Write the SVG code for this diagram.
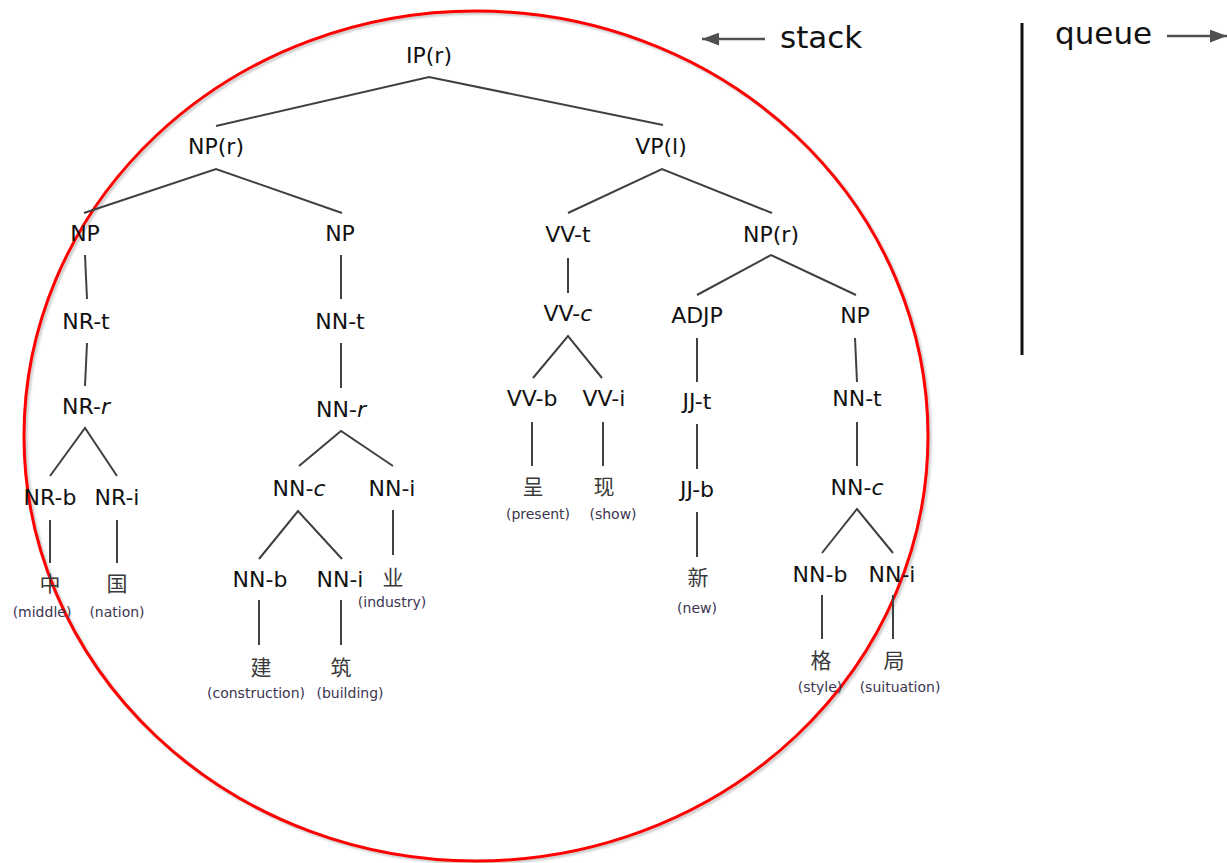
<svg xmlns="http://www.w3.org/2000/svg" width="1227" height="863" viewBox="0 0 1227 863">
  <style>
    .lbl { font-family: "DejaVu Sans", "Liberation Sans", sans-serif; font-size: 22px; fill: #111; text-anchor: middle; }
    .it { font-style: italic; }
    .zh { font-family: "Noto Sans CJK SC", "DejaVu Sans", sans-serif; font-size: 21px; fill: #3a3a3a; text-anchor: middle; }
    .gloss { font-family: "DejaVu Sans", "Liberation Sans", sans-serif; font-size: 14px; fill: #3b3450; text-anchor: middle; }
    .big { font-family: "DejaVu Sans", "Liberation Sans", sans-serif; font-size: 31px; fill: #111; }
    .edge { stroke: #404040; stroke-width: 2; fill: none; stroke-linecap: butt; }
    .arrow { stroke: #505050; stroke-width: 2.5; fill: none; }
  </style>
  <defs>
    <marker id="head" viewBox="0 0 16 12" refX="16" refY="6" markerWidth="17" markerHeight="13" markerUnits="userSpaceOnUse" orient="auto">
      <path d="M0,0 L16,6 L0,12 z" fill="#505050"/>
    </marker>
    <filter id="soft" x="-5%" y="-5%" width="110%" height="110%">
      <feGaussianBlur stdDeviation="1.2"/>
    </filter>
  </defs>

  <rect width="1227" height="863" fill="#fff"/>

  <!-- stack region outline -->
  <g id="stack-outline">
    <ellipse cx="478" cy="438" rx="452" ry="425" fill="none" stroke="#c8c8c8" stroke-width="3" filter="url(#soft)"/>
    <ellipse cx="476" cy="436" rx="452" ry="425" fill="none" stroke="#ff0000" stroke-width="3"/>
  </g>

  <!-- stack / queue header -->
  <g id="header">
    <line class="arrow" x1="765" y1="39" x2="702" y2="39" marker-end="url(#head)"/>
    <text class="big" x="780" y="48">stack</text>
    <line x1="1022" y1="23" x2="1022" y2="355" stroke="#111" stroke-width="3"/>
    <text class="big" x="1055" y="44">queue</text>
    <line class="arrow" x1="1167" y1="36" x2="1227" y2="36" marker-end="url(#head)"/>
  </g>

  <!-- tree edges -->
  <g id="connectors">
    <polyline class="edge" points="216,126 429,77 663,125"/>
    <polyline class="edge" points="84,213 216,169 342,213"/>
    <polyline class="edge" points="568,213 662,169 772,213"/>
    <line class="edge" x1="85" y1="255" x2="87" y2="299"/>
    <line class="edge" x1="341" y1="255" x2="341" y2="299"/>
    <line class="edge" x1="568" y1="258" x2="568" y2="293"/>
    <polyline class="edge" points="697,295 771,255 856,295"/>
    <line class="edge" x1="87" y1="343" x2="85" y2="386"/>
    <line class="edge" x1="341" y1="343" x2="341" y2="388"/>
    <polyline class="edge" points="533,378 568,336 602,378"/>
    <line class="edge" x1="697" y1="338" x2="697" y2="382"/>
    <line class="edge" x1="855" y1="338" x2="857" y2="382"/>
    <polyline class="edge" points="50,476 85,428 117,476"/>
    <polyline class="edge" points="299,466 341,431 393,466"/>
    <line class="edge" x1="532" y1="422" x2="532" y2="466"/>
    <line class="edge" x1="603" y1="422" x2="603" y2="466"/>
    <line class="edge" x1="697" y1="424" x2="697" y2="469"/>
    <line class="edge" x1="857" y1="422" x2="857" y2="466"/>
    <line class="edge" x1="50" y1="520" x2="50" y2="563"/>
    <line class="edge" x1="117" y1="520" x2="117" y2="563"/>
    <polyline class="edge" points="259,559 298,511 342,559"/>
    <line class="edge" x1="393" y1="510" x2="393" y2="555"/>
    <line class="edge" x1="697" y1="512" x2="697" y2="557"/>
    <polyline class="edge" points="822,553 857,509 893,553"/>
    <line class="edge" x1="259" y1="600" x2="259" y2="645"/>
    <line class="edge" x1="341" y1="600" x2="341" y2="645"/>
    <line class="edge" x1="822" y1="595" x2="822" y2="639"/>
    <line class="edge" x1="893" y1="595" x2="893" y2="639"/>
  </g>

  <!-- tree nodes -->
  <g id="n-ip"><text class="lbl" x="429" y="63">IP(r)</text></g>
  <g id="n-np-r1"><text class="lbl" x="216" y="154">NP(r)</text></g>
  <g id="n-vp"><text class="lbl" x="661" y="154">VP(l)</text></g>
  <g id="n-np1"><text class="lbl" x="85" y="241">NP</text></g>
  <g id="n-np2"><text class="lbl" x="340" y="241">NP</text></g>
  <g id="n-vv-t"><text class="lbl" x="568" y="242">VV-t</text></g>
  <g id="n-np-r2"><text class="lbl" x="771" y="242">NP(r)</text></g>
  <g id="n-nr-t"><text class="lbl" x="86" y="329">NR-t</text></g>
  <g id="n-nn-t1"><text class="lbl" x="340" y="329">NN-t</text></g>
  <g id="n-vv-c"><text class="lbl" x="568" y="321">VV-<tspan class="it">c</tspan></text></g>
  <g id="n-adjp"><text class="lbl" x="697" y="323">ADJP</text></g>
  <g id="n-np3"><text class="lbl" x="855" y="323">NP</text></g>
  <g id="n-nr-r"><text class="lbl" x="86" y="414">NR-<tspan class="it">r</tspan></text></g>
  <g id="n-nn-r"><text class="lbl" x="341" y="417">NN-<tspan class="it">r</tspan></text></g>
  <g id="n-vv-b"><text class="lbl" x="532" y="406">VV-b</text></g>
  <g id="n-vv-i"><text class="lbl" x="604" y="406">VV-i</text></g>
  <g id="n-jj-t"><text class="lbl" x="697" y="409">JJ-t</text></g>
  <g id="n-nn-t2"><text class="lbl" x="857" y="406">NN-t</text></g>
  <g id="n-nr-b"><text class="lbl" x="50" y="505">NR-b</text></g>
  <g id="n-nr-i"><text class="lbl" x="117" y="505">NR-i</text></g>
  <g id="n-nn-c1"><text class="lbl" x="299" y="496">NN-<tspan class="it">c</tspan></text></g>
  <g id="n-nn-i1"><text class="lbl" x="392" y="496">NN-i</text></g>
  <g id="n-jj-b"><text class="lbl" x="697" y="497">JJ-b</text></g>
  <g id="n-nn-c2"><text class="lbl" x="857" y="495">NN-<tspan class="it">c</tspan></text></g>
  <g id="n-nn-b1"><text class="lbl" x="260" y="587">NN-b</text></g>
  <g id="n-nn-i2"><text class="lbl" x="340" y="587">NN-i</text></g>
  <g id="n-nn-b2"><text class="lbl" x="820" y="582">NN-b</text></g>
  <g id="n-nn-i3"><text class="lbl" x="892" y="582">NN-i</text></g>

  <!-- words with glosses -->
  <g id="w-cheng"><text class="zh" x="533" y="494">呈</text><text class="gloss" x="538" y="519">(present)</text></g>
  <g id="w-xian"><text class="zh" x="604" y="494">现</text><text class="gloss" x="613" y="519">(show)</text></g>
  <g id="w-zhong"><text class="zh" x="50" y="591">中</text><text class="gloss" x="42" y="617">(middle)</text></g>
  <g id="w-guo"><text class="zh" x="117" y="591">国</text><text class="gloss" x="117" y="617">(nation)</text></g>
  <g id="w-ye"><text class="zh" x="393" y="585">业</text><text class="gloss" x="392" y="607">(industry)</text></g>
  <g id="w-xin"><text class="zh" x="698" y="585">新</text><text class="gloss" x="697" y="613">(new)</text></g>
  <g id="w-jian"><text class="zh" x="261" y="675">建</text><text class="gloss" x="256" y="698">(construction)</text></g>
  <g id="w-zhu"><text class="zh" x="341" y="675">筑</text><text class="gloss" x="350" y="698">(building)</text></g>
  <g id="w-ge"><text class="zh" x="821" y="668">格</text><text class="gloss" x="820" y="692">(style)</text></g>
  <g id="w-ju"><text class="zh" x="894" y="668">局</text><text class="gloss" x="900" y="692">(suituation)</text></g>
</svg>
